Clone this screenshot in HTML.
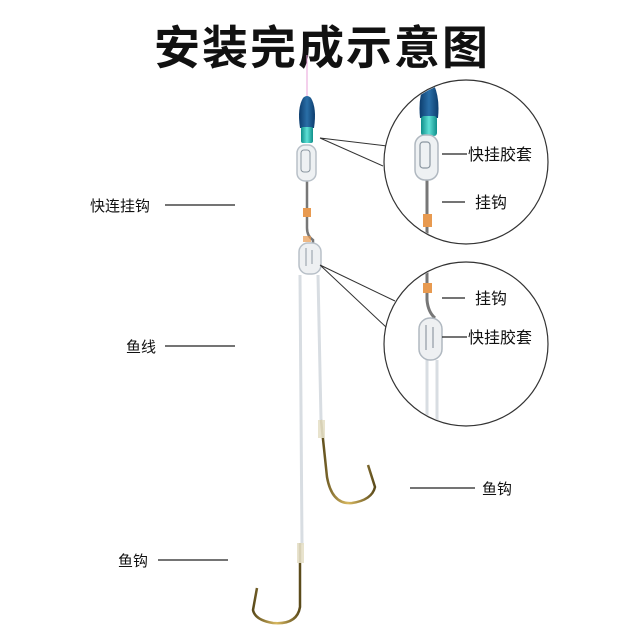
<!DOCTYPE html>
<html><head><meta charset="utf-8"><style>
html,body{margin:0;padding:0;background:#fff}
svg{display:block}
text{font-family:"Liberation Sans","Noto Sans CJK SC",sans-serif;fill:#111}
</style></head><body>
<svg width="640" height="640" viewBox="0 0 640 640" xmlns="http://www.w3.org/2000/svg">
<defs>
<linearGradient id="blue" x1="0" x2="1"><stop offset="0" stop-color="#0d3d6e"/><stop offset=".5" stop-color="#2a6fa8"/><stop offset="1" stop-color="#0d3d6e"/></linearGradient>
<linearGradient id="teal" x1="0" x2="1"><stop offset="0" stop-color="#0f8f8a"/><stop offset=".5" stop-color="#5fe0d6"/><stop offset="1" stop-color="#0f8f8a"/></linearGradient>
<linearGradient id="gold" x1="0" x2="1"><stop offset="0" stop-color="#5a4a1a"/><stop offset=".5" stop-color="#d8b860"/><stop offset="1" stop-color="#5a4a1a"/></linearGradient>
</defs>
<text x="322" y="64" font-size="46" font-weight="bold" text-anchor="middle" letter-spacing="2">安装完成示意图</text>
<line x1="307" y1="55" x2="307" y2="98" stroke="#e8a0d8" stroke-width="1"/>

<!-- main rig -->
<path d="M300 275 L302 545 M318 275 L321 420" stroke="#d8dde2" stroke-width="3" fill="none"/>
<path d="M307 180 L307 228 Q307 236 313 240 L313 250" stroke="#777" stroke-width="2.5" fill="none"/>
<rect x="303" y="208" width="8" height="9" fill="#e89a50"/>
<rect x="303" y="236" width="8" height="6" fill="#e89a50" opacity=".7"/>
<path d="M300 128 Q297 108 303 98 Q307 94 311 98 Q317 108 314 128 Z" fill="url(#blue)"/>
<rect x="301" y="127" width="12" height="16" rx="2" fill="url(#teal)"/>
<rect x="297" y="145" width="19" height="36" rx="8" fill="#eef1f3" stroke="#b8c0c8" stroke-width="1.5"/>
<rect x="301" y="150" width="9" height="22" rx="3" fill="none" stroke="#8a96a0" stroke-width="1"/>
<rect x="299" y="243" width="22" height="31" rx="9" fill="#eef0f2" stroke="#b8c0c8" stroke-width="1.5"/>
<path d="M306 248 L306 266 M312 250 L312 264" stroke="#909aa4" stroke-width="1"/>

<!-- hooks -->
<path d="M321 420 L327 477 Q332 505 352 503 Q372 500 375 487 L368 465" stroke="url(#gold)" stroke-width="2.5" fill="none"/>
<rect x="318" y="420" width="7" height="18" fill="#e6e0c8" opacity=".9"/>
<path d="M300 543 L300 607 Q297 625 273 623 Q255 620 253 610 L257 588" stroke="url(#gold)" stroke-width="2.5" fill="none"/>
<rect x="297" y="543" width="7" height="20" fill="#e6e0c8" opacity=".9"/>

<!-- pointers -->
<path d="M320 138 L387 146 M320 138 L383 166 M320 265 L395 301 M320 265 L387 328" stroke="#333" stroke-width="1" fill="none"/>
<circle cx="466" cy="162" r="82" fill="#fff" stroke="#333" stroke-width="1.2"/>
<circle cx="466" cy="344" r="82" fill="#fff" stroke="#333" stroke-width="1.2"/>

<!-- circle 1 content -->
<clipPath id="c1"><circle cx="466" cy="162" r="81"/></clipPath>
<clipPath id="c2"><circle cx="466" cy="344" r="81"/></clipPath>
<g clip-path="url(#c1)">
<path d="M427 175 L427 250" stroke="#777" stroke-width="3"/>
<rect x="423" y="214" width="9" height="13" fill="#e89a50"/>
<path d="M420 118 Q418 98 424 85 Q429 80 434 85 Q440 98 438 118 Z" fill="url(#blue)"/>
<rect x="421" y="116" width="16" height="20" rx="3" fill="url(#teal)"/>
<rect x="415" y="135" width="23" height="45" rx="10" fill="#eef1f3" stroke="#b0b8c0" stroke-width="1.5"/>
<rect x="420" y="142" width="10" height="26" rx="3" fill="none" stroke="#8a96a0" stroke-width="1.2"/>
</g>
<g clip-path="url(#c2)">
<path d="M427 260 L427 300 Q428 312 435 318" stroke="#777" stroke-width="3" fill="none"/>
<rect x="423" y="283" width="9" height="10" fill="#e89a50"/>
<path d="M427 360 L427 430 M437 360 L437 430" stroke="#d8dde2" stroke-width="3"/>
<rect x="419" y="318" width="23" height="42" rx="11" fill="#eef0f2" stroke="#b0b8c0" stroke-width="1.5"/>
<path d="M426 325 L426 350 M433 327 L433 348" stroke="#909aa4" stroke-width="1.2"/>
</g>
<g stroke="#222" stroke-width="1.3">
<line x1="442" y1="154" x2="467" y2="154"/>
<line x1="442" y1="202" x2="465" y2="202"/>
<line x1="442" y1="298" x2="465" y2="298"/>
<line x1="442" y1="337" x2="467" y2="337"/>
<line x1="165" y1="205" x2="235" y2="205"/>
<line x1="165" y1="346" x2="235" y2="346"/>
<line x1="158" y1="560" x2="228" y2="560"/>
<line x1="410" y1="488" x2="475" y2="488"/>
</g>
<g font-size="16">
<text x="468" y="160">快挂胶套</text>
<text x="475" y="208">挂钩</text>
<text x="475" y="304">挂钩</text>
<text x="468" y="343">快挂胶套</text>
<text x="90" y="211" font-size="15">快连挂钩</text>
<text x="126" y="352" font-size="15">鱼线</text>
<text x="118" y="566" font-size="15">鱼钩</text>
<text x="482" y="494" font-size="15">鱼钩</text>
</g>
</svg>
</body></html>
